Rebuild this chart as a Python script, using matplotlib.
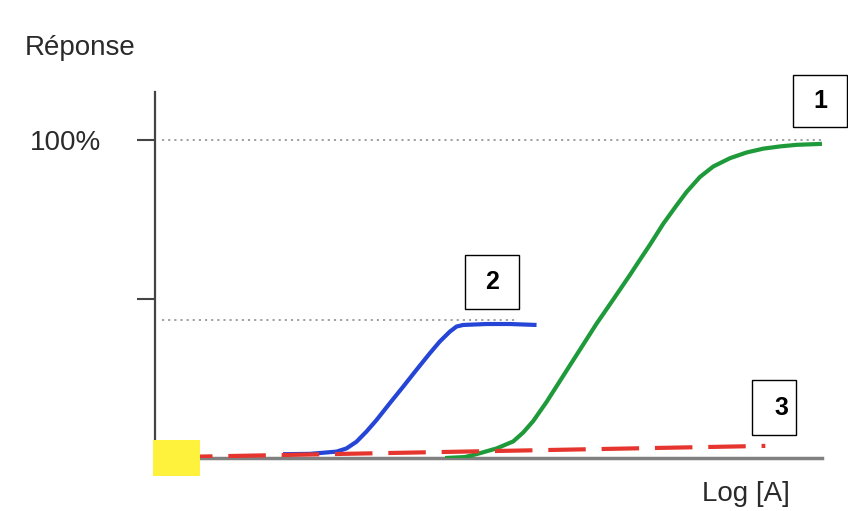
import matplotlib
matplotlib.use('Agg')
import matplotlib.pyplot as plt
from matplotlib.patches import Rectangle

plt.rcParams['font.family'] = ['Liberation Sans', 'DejaVu Sans']

# courbe 1 (agoniste entier) - vert
x1 = [4.35, 4.65, 4.87, 5.12, 5.37, 5.52, 5.67, 5.87, 6.12, 6.37, 6.62, 6.87,
      7.12, 7.22, 7.42, 7.62, 7.82, 7.97, 8.17, 8.37, 8.62, 8.87, 9.12, 9.37,
      9.62, 10.0]
y1 = [0.0, 0.3, 1.5, 3.0, 5.2, 8.0, 11.6, 17.6, 25.8, 34.0, 42.2, 49.8,
      57.5, 60.7, 67.0, 73.6, 79.4, 83.6, 88.3, 91.6, 94.2, 96.0, 97.2, 97.9,
      98.4, 98.7]

# courbe 2 (agoniste partiel) - bleu
x2 = [1.92, 2.32, 2.72, 2.87, 3.02, 3.17, 3.32, 3.52, 3.72, 3.92, 4.12, 4.27,
      4.42, 4.52, 4.62, 4.97, 5.32, 5.72]
y2 = [1.2, 1.3, 2.0, 3.0, 5.1, 8.3, 11.9, 17.2, 22.4, 27.7, 32.9, 36.6,
      39.7, 41.3, 41.8, 42.1, 42.1, 41.8]

# courbe 3 (antagoniste) - rouge pointillé
x3 = [0.3, 9.15]
y3 = [0.3, 3.8]

max1 = 100
max2 = 43.5
yticks = [50, 100]
ytick_labels = ['', '100%']

fig = plt.figure(figsize=(8.48, 5.11), dpi=100)
ax = fig.add_axes([155/848, 53/511, 667/848, 366/511])
ax.set_xlim(0, 10)
ax.set_ylim(0, 115)

ax.plot([0.1, 10], [max1, max1], color='#9a9a9a', lw=1.3, ls=(0, (1.2, 2.2)), zorder=1)
ax.plot([0.1, 5.4], [max2, max2], color='#9a9a9a', lw=1.3, ls=(0, (1.2, 2.2)), zorder=1)

ax.plot(x2, y2, color='#2545d6', lw=3, solid_capstyle='butt',
        solid_joinstyle='round', zorder=3)
ax.plot(x1, y1, color='#1f9a3a', lw=3, solid_capstyle='butt',
        solid_joinstyle='round', zorder=3)
ax.plot(x3, y3, color='#e5352e', lw=3, ls=(0, (9, 3.8)), zorder=4)

# carré jaune à l'origine
ax.add_patch(Rectangle((-0.03, -5.8), 0.7, 11.5, facecolor='#fff23c',
                       edgecolor='none', clip_on=False, zorder=5))

for s in ['top', 'right']:
    ax.spines[s].set_visible(False)
ax.spines['left'].set_color('#444444')
ax.spines['left'].set_linewidth(1.6)
ax.spines['bottom'].set_color('#808080')
ax.spines['bottom'].set_linewidth(2.5)

ax.set_xticks([])
ax.set_yticks(yticks)
ax.set_yticklabels(ytick_labels, fontsize=20, color='#2a2a2a')
ax.tick_params(axis='y', length=13, width=1.5, color='#444444', pad=26)

fig.text(25/848, 1 - 48/511, 'Réponse', fontsize=20, color='#2a2a2a', va='center', ha='left')
fig.text(702/848, 1 - 494/511, 'Log [A]', fontsize=20, color='#2a2a2a', va='center', ha='left')

# encadrés numérotés
boxes = [
    ('1', 9.57, 104.1, 0.80, 16.3, 'center'),
    ('2', 4.65, 46.9, 0.81, 16.9, 'center'),
    ('3', 8.95, 7.2, 0.66, 17.3, 'right'),
]
for lab, bx, by, bw, bh, al in boxes:
    ax.add_patch(Rectangle((bx, by), bw, bh, facecolor='white', edgecolor='black',
                           lw=1.0, clip_on=False, zorder=6))
    tx = bx + bw / 2 if al == 'center' else bx + bw - 0.12
    ax.text(tx, by + bh / 2, lab, fontsize=18, fontweight='bold', ha=al, va='center',
            zorder=7, clip_on=False)

fig.savefig('out.png', dpi=100)
